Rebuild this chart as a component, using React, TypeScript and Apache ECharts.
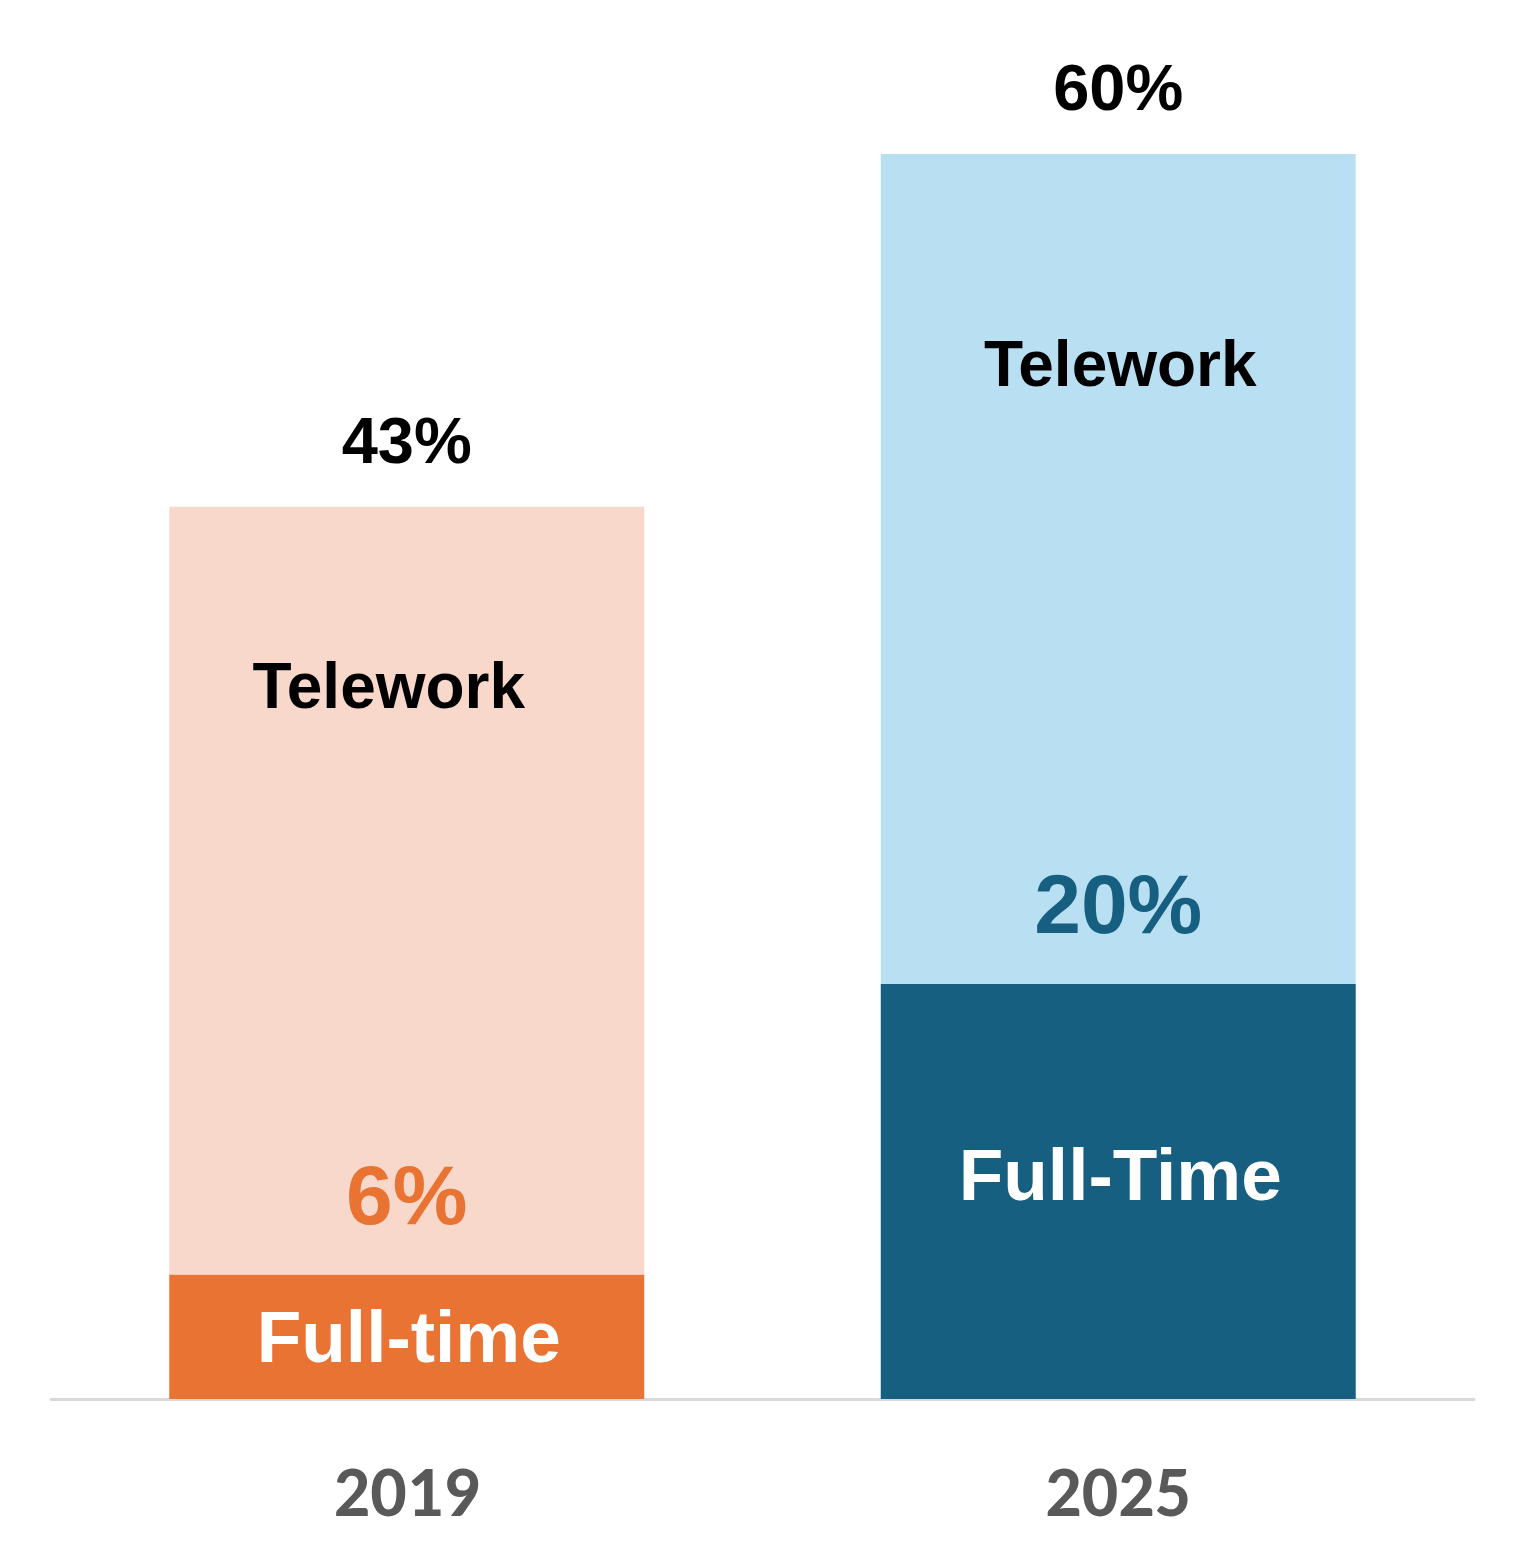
import { useEffect, useRef } from "react";
import * as echarts from "echarts";

const YEARS = ["2019", "2025"];
const FULL_TIME = [6, 20];
const TELEWORK = [37, 40];
const TOTALS = [43, 60];
const FULL_TIME_NAMES = ["Full-time", "Full-Time"];

const FT_COLORS = ["#E87332", "#165F81"];
const TW_COLORS = ["#F8D8CA", "#B8E0F2"];
const FT_LABEL_OFFSETS = [0, -17];
const TW_LABEL_SHIFT_X = [-18, 2];

const FONT = "Arial, 'Liberation Sans', sans-serif";
const BAR_WIDTH = 475;

export default function App() {
  const ref = useRef<HTMLDivElement>(null);

  useEffect(() => {
    if (!ref.current) return;
    const chart = echarts.init(ref.current, null, { renderer: "svg" });

    const common = { type: "bar" as const, barWidth: BAR_WIDTH, barGap: "-100%" };

    chart.setOption({
      animation: false,
      grid: { left: 51, right: 51, top: 154, bottom: 165 },
      xAxis: {
        type: "category",
        data: YEARS,
        axisLine: { lineStyle: { color: "#D9D9D9", width: 3 } },
        axisTick: { show: false },
        axisLabel: {
          margin: 56,
          fontSize: 72,
          fontWeight: "bold",
          color: "#595959",
          fontFamily: "Calibri, Carlito, Lato, sans-serif",
        },
      },
      yAxis: { type: "value", min: 0, max: 60, show: false, splitLine: { show: false } },
      series: [
        {
          ...common,
          name: "Full-time",
          stack: "main",
          data: FULL_TIME.map((v, i) => ({
            value: v,
            itemStyle: { color: FT_COLORS[i] },
            label: { formatter: FULL_TIME_NAMES[i], offset: [2, FT_LABEL_OFFSETS[i]] },
          })),
          label: {
            show: true,
            position: "inside",
            color: "#fff",
            fontSize: 73,
            fontWeight: "bold",
            fontFamily: FONT,
          },
        },
        {
          ...common,
          name: "Telework",
          stack: "main",
          data: TELEWORK.map((v, i) => ({
            value: v,
            itemStyle: { color: TW_COLORS[i] },
            label: { offset: [TW_LABEL_SHIFT_X[i], -205] },
          })),
          label: {
            show: true,
            position: "inside",
            formatter: "Telework",
            color: "#000",
            fontSize: 64,
            fontWeight: "bold",
            fontFamily: FONT,
          },
        },
        {
          ...common,
          name: "Full-time share",
          data: FULL_TIME.map((v, i) => ({
            value: v,
            label: { color: FT_COLORS[i] },
          })),
          itemStyle: { color: "rgba(0,0,0,0)" },
          label: {
            show: true,
            position: "top",
            distance: 38,
            formatter: "{c}%",
            fontSize: 84,
            fontWeight: "bold",
            fontFamily: FONT,
          },
          z: 3,
        },
        {
          ...common,
          name: "Total",
          data: TOTALS,
          itemStyle: { color: "rgba(0,0,0,0)" },
          label: {
            show: true,
            position: "top",
            distance: 34,
            formatter: "{c}%",
            color: "#000",
            fontSize: 65,
            fontWeight: "bold",
            fontFamily: FONT,
          },
          z: 3,
        },
      ],
    });

    return () => chart.dispose();
  }, []);

  return (
    <div
      ref={ref}
      style={{ position: "absolute", left: 0, top: 0, width: "1525px", height: "1564px", background: "#fff" }}
    />
  );
}
